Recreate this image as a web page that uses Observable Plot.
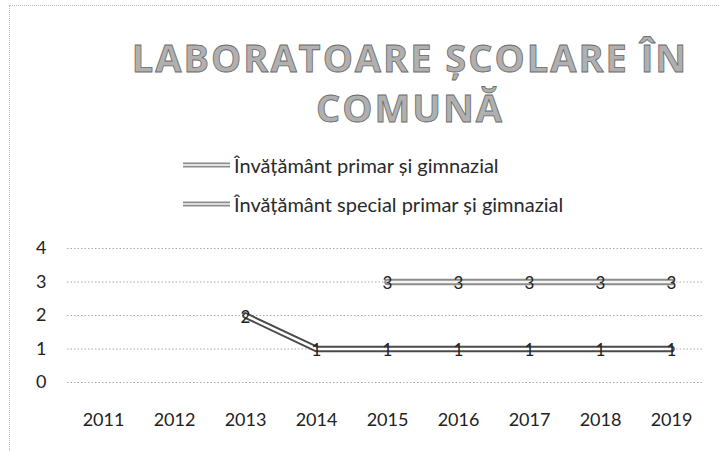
<!DOCTYPE html>
<html><head><meta charset="utf-8">
<script src="https://cdn.jsdelivr.net/npm/d3@7"></script>
<script src="https://cdn.jsdelivr.net/npm/@observablehq/plot@0.6"></script>
<style>
body{margin:0;background:#fff;width:719px;height:451px;overflow:hidden;position:relative;font-family:Lato,"Open Sans",sans-serif;}
#frame{position:absolute;left:9px;top:5px;width:730px;height:470px;border:1px dotted #bbb;box-sizing:border-box;}
#title{position:absolute;left:110px;width:600px;top:32px;text-align:center;font-family:"Open Sans",sans-serif;font-weight:700;font-size:38px;line-height:50px;letter-spacing:2px;color:#b0b0b0;-webkit-text-stroke:0.8px #6a6a6a;}
.leg{position:absolute;font-size:20px;line-height:24px;color:#2a2a2a;white-space:nowrap;display:flex;align-items:center;}
.leg svg{margin-right:4px;}
#chart{position:absolute;left:0;top:232px;}
</style></head><body>
<div id="frame"></div>
<div id="title">LABORATOARE ȘCOLARE ÎN<br>COMUNĂ</div>
<div id="legend"></div>
<div id="chart"></div>
<script>
const years = [2011, 2012, 2013, 2014, 2015, 2016, 2017, 2018, 2019];
const seriesNames = ["Învățământ primar și gimnazial", "Învățământ special primar și gimnazial"];
const primar = [null, null, 2, 1, 1, 1, 1, 1, 1];
const special = [null, null, null, null, 3, 3, 3, 3, 3];
const yTicks = [0, 1, 2, 3, 4];

const outerColors = ["#4a4a4a", "#8c8c8c"];
const innerColors = ["#ffffff", "#f4f4f4"];

// legend
const legPos = [{left: 183, top: 153}, {left: 183, top: 192}];
const legend = document.getElementById("legend");
seriesNames.forEach((name, i) => {
  const d = document.createElement("div");
  d.className = "leg";
  d.style.left = legPos[i].left + "px";
  d.style.top = legPos[i].top + "px";
  d.innerHTML = `<svg width="47" height="10"><line x1="0" x2="47" y1="5" y2="5" stroke="${outerColors[1]}" stroke-width="5"/><line x1="0" x2="47" y1="5" y2="5" stroke="${innerColors[i]}" stroke-width="1.6"/></svg><span>${name}</span>`;
  legend.appendChild(d);
});

const rows = [];
years.forEach((y, i) => {
  if (primar[i] != null) rows.push({year: y, value: primar[i], s: 0});
  if (special[i] != null) rows.push({year: y, value: special[i], s: 1});
});
const s0 = rows.filter(d => d.s === 0);
const s1 = rows.filter(d => d.s === 1);

const chart = Plot.plot({
  width: 719,
  height: 210,
  marginLeft: 67,
  marginRight: 12,
  marginTop: 16,
  marginBottom: 60,
  style: {fontFamily: "Lato, 'Open Sans', sans-serif", fontSize: "18px", color: "#222", background: "transparent"},
  x: {type: "point", domain: years, padding: 0.5, label: null, tickSize: 0, tickPadding: 31, tickFormat: d => String(d)},
  y: {domain: [0, 4], ticks: yTicks, label: null, tickSize: 0, tickPadding: 21, tickFormat: d => String(d)},
  marks: [
    Plot.ruleY(yTicks, {stroke: "#aaa", strokeDasharray: "1.5,2", strokeWidth: 1, insetRight: 4}),
    Plot.line(s1, {x: "year", y: "value", stroke: outerColors[1], strokeWidth: 6.5}),
    Plot.line(s1, {x: "year", y: "value", stroke: innerColors[1], strokeWidth: 2.5}),
    Plot.line(s0, {x: "year", y: "value", stroke: outerColors[0], strokeWidth: 6.5}),
    Plot.line(s0, {x: "year", y: "value", stroke: innerColors[0], strokeWidth: 2.5}),
    Plot.text(rows, {x: "year", y: "value", text: d => String(d.value), fill: "#222", fontSize: 17, dy: 2})
  ]
});
document.getElementById("chart").appendChild(chart);
</script>
</body></html>
